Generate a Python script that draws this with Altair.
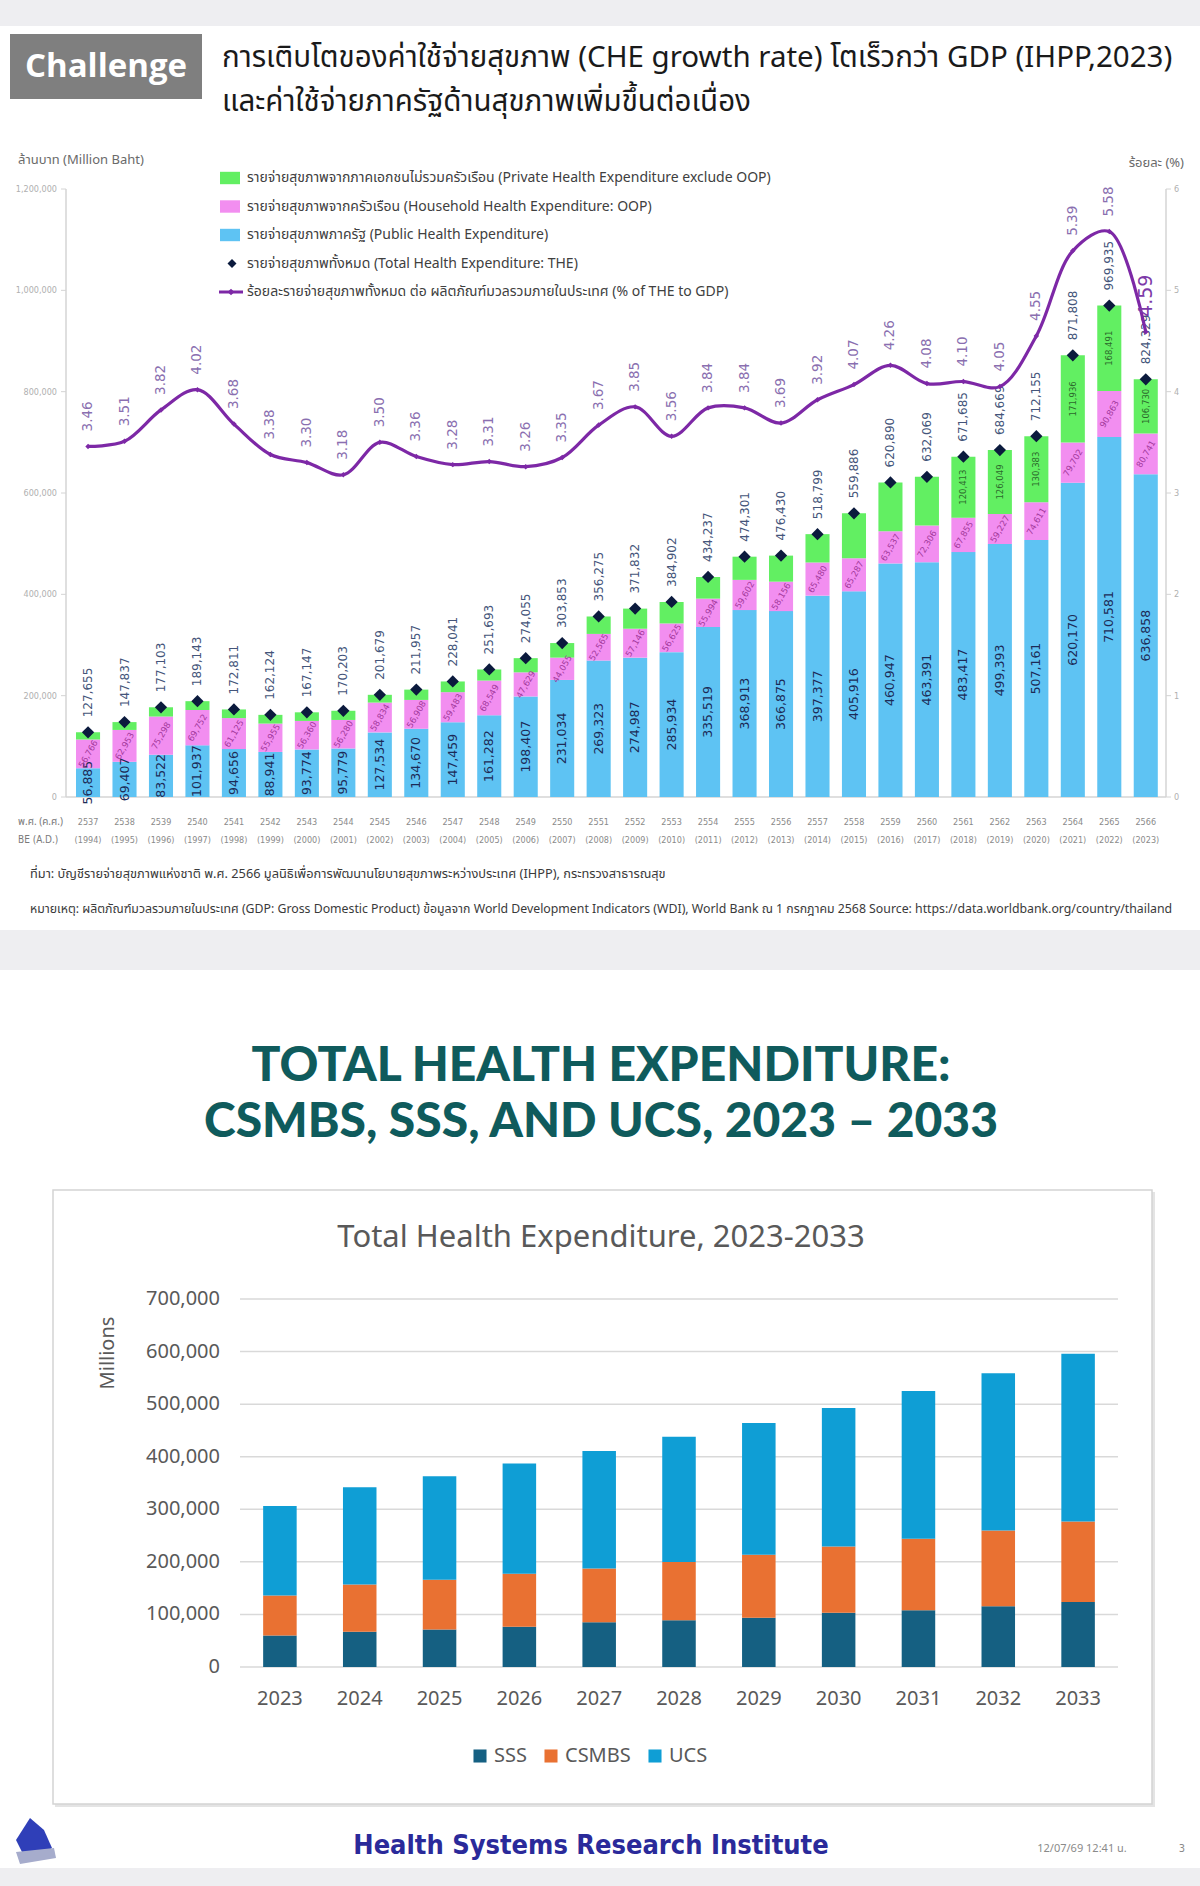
import altair as alt
import pandas as pd

W, H = 1200, 1886

# ---------------- Thailand national health accounts, BE 2537-2566 ----------------
be_years = ["2537", "2538", "2539", "2540", "2541", "2542", "2543", "2544", "2545", "2546",
            "2547", "2548", "2549", "2550", "2551", "2552", "2553", "2554", "2555", "2556",
            "2557", "2558", "2559", "2560", "2561", "2562", "2563", "2564", "2565", "2566"]
ad_years = ["(1994)", "(1995)", "(1996)", "(1997)", "(1998)", "(1999)", "(2000)", "(2001)", "(2002)", "(2003)",
            "(2004)", "(2005)", "(2006)", "(2007)", "(2008)", "(2009)", "(2010)", "(2011)", "(2012)", "(2013)",
            "(2014)", "(2015)", "(2016)", "(2017)", "(2018)", "(2019)", "(2020)", "(2021)", "(2022)", "(2023)"]
public = [56885, 69407, 83522, 101937, 94656, 88941, 93774, 95779, 127534, 134670,
          147459, 161282, 198407, 231034, 269323, 274987, 285934, 335519, 368913, 366875,
          397377, 405916, 460947, 463391, 483417, 499393, 507161, 620170, 710581, 636858]
household = [56766, 62953, 75298, 69752, 61125, 55955, 56360, 56280, 58834, 56908,
             59483, 68549, 47629, 44055, 52565, 57146, 56625, 55994, 59602, 58156,
             65480, 65287, 63537, 72306, 67855, 59227, 74611, 79702, 90863, 80741]
private = [14004, 15477, 18283, 17454, 17030, 17228, 17013, 18144, 15311, 20379,
           21099, 21862, 28019, 28764, 34387, 39699, 42343, 42724, 45786, 51399,
           55942, 88683, 96406, 96372, 120413, 126049, 130383, 171936, 168491, 106730]
total = [127655, 147837, 177103, 189143, 172811, 162124, 167147, 170203, 201679, 211957,
         228041, 251693, 274055, 303853, 356275, 371832, 384902, 434237, 474301, 476430,
         518799, 559886, 620890, 632069, 671685, 684669, 712155, 871808, 969935, 824329]
pct_gdp = [3.46, 3.51, 3.82, 4.02, 3.68, 3.38, 3.30, 3.18, 3.50, 3.36,
           3.28, 3.31, 3.26, 3.35, 3.67, 3.85, 3.56, 3.84, 3.84, 3.69,
           3.92, 4.07, 4.26, 4.08, 4.10, 4.05, 4.55, 5.39, 5.58, 4.59]
left_ticks = [0, 200000, 400000, 600000, 800000, 1000000, 1200000]
right_ticks = [0, 1, 2, 3, 4, 5, 6]

seg_names = ["Public", "Household", "Private"]          # bottom -> top
seg_colors = ["#5ec3f3", "#f28ef0", "#62ef62"]

legend_labels = [
    "รายจ่ายสุขภาพจากภาคเอกชนไม่รวมครัวเรือน (Private Health Expenditure exclude OOP)",
    "รายจ่ายสุขภาพจากครัวเรือน  (Household Health Expenditure: OOP)",
    "รายจ่ายสุขภาพภาครัฐ (Public Health Expenditure)",
    "รายจ่ายสุขภาพทั้งหมด (Total  Health Expenditure: THE)",
    "ร้อยละรายจ่ายสุขภาพทั้งหมด ต่อ ผลิตภัณฑ์มวลรวมภายในประเทศ (% of THE to GDP)",
]

# ---------------- projection 2023-2033 by scheme ----------------
years2 = ["2023", "2024", "2025", "2026", "2027", "2028", "2029", "2030", "2031", "2032", "2033"]
sss = [60000, 67000, 71400, 76400, 85300, 89000, 93500, 103000, 108000, 115600, 123800]
csmbs = [75800, 89700, 94600, 101100, 102300, 110600, 120000, 126300, 135800, 144000, 152900]
ucs = [170600, 185100, 197000, 209500, 223400, 238200, 250800, 263400, 281200, 299400, 319000]
plan_names = ["SSS", "CSMBS", "UCS"]
plan_colors = ["#156082", "#e97132", "#0f9ed5"]
bot_ticks = [0, 100000, 200000, 300000, 400000, 500000, 600000, 700000]

THAI = "Noto Sans Thai, Loma, Garuda, Tlwg Typist, Noto Sans, sans-serif"
NUM = "DejaVu Sans"
COND = "DejaVu Sans Condensed, Liberation Sans Narrow, Noto Sans, sans-serif"

# ---------------- tables ----------------
rows = []
for i, be in enumerate(be_years):
    for k, vals in enumerate([public, household, private]):
        rows.append({"be": be, "seg": seg_names[k], "k": k, "value": vals[i]})
seg_df = pd.DataFrame(rows)
the_df = pd.DataFrame({"be": be_years, "ad": ad_years, "total": total, "pct": pct_gdp})

rows2 = []
for i, yr in enumerate(years2):
    for k, vals in enumerate([sss, csmbs, ucs]):
        rows2.append({"year": yr, "plan": plan_names[k], "k": k, "value": vals[i]})
plan_df = pd.DataFrame(rows2)
year_df = pd.DataFrame({"year": years2})

one = pd.DataFrame({"k": [0]})


def box(x1, x2, y1, y2, **kw):
    return alt.Chart(one).mark_rect(**kw).encode(
        x=alt.value(x1), x2=alt.value(x2), y=alt.value(y1), y2=alt.value(y2))


def label(txt, x, y, **kw):
    return alt.Chart(one).mark_text(text=txt, **kw).encode(x=alt.value(x), y=alt.value(y))


def hline(x1, x2, y, **kw):
    return alt.Chart(one).mark_rule(**kw).encode(x=alt.value(x1), x2=alt.value(x2), y=alt.value(y))


def vline(x, y1, y2, **kw):
    return alt.Chart(one).mark_rule(**kw).encode(x=alt.value(x), y=alt.value(y1), y2=alt.value(y2))


# ---------------- scales (pixel ranges on the page) ----------------
x_top = alt.Scale(domain=be_years, range=[69.8, 1164], paddingInner=0.34, paddingOuter=0.17)
y_top = alt.Scale(domain=[0, 1200000], range=[797, 189], nice=False)
y_pct = alt.Scale(domain=[0, 6], range=[797, 189], nice=False)
x_bot = alt.Scale(domain=years2, range=[240, 1118], paddingInner=0.58, paddingOuter=0.29)
y_bot = alt.Scale(domain=[0, 700000], range=[1667, 1299], nice=False)

XT = alt.X("be:N", scale=x_top, sort=be_years, title=None, axis=None)


def YT(field):
    return alt.Y(field, scale=y_top, title=None, axis=None)


def YP(field):
    return alt.Y(field, scale=y_pct, title=None, axis=None)


AXIS_GREY = "#d4d4d4"
TICK_LBL = "#b0b0b0"

# ---------------- top: stacked bars ----------------
stacked = alt.Chart(seg_df).transform_stack(
    stack="value", groupby=["be"], sort=[alt.SortField("k", order="ascending")], as_=["v0", "v1"]
).transform_calculate(mid="(datum.v0 + datum.v1) / 2")

bars = stacked.mark_bar().encode(
    x=XT, y=YT("v0:Q"), y2="v1:Q",
    color=alt.Color("seg:N", scale=alt.Scale(domain=seg_names, range=seg_colors), legend=None),
)

pub_lbl = stacked.transform_filter("datum.seg == 'Public'").mark_text(
    angle=270, align="center", baseline="middle", fontSize=12.5, font=NUM, color="#1c2b57"
).encode(x=XT, y=YT("mid:Q"), text=alt.Text("value:Q", format=","))

hh_lbl = stacked.transform_filter("datum.seg == 'Household'").mark_text(
    angle=300, align="center", baseline="middle", fontSize=8.5, font=NUM, color="#a3399c"
).encode(x=XT, y=YT("mid:Q"), text=alt.Text("value:Q", format=","))

pv_lbl = stacked.transform_filter("datum.seg == 'Private' && toNumber(datum.be) >= 2561").mark_text(
    angle=270, align="center", baseline="middle", fontSize=8.5, font=NUM, color="#2c6a2c"
).encode(x=XT, y=YT("mid:Q"), text=alt.Text("value:Q", format=","))

the_pts = alt.Chart(the_df).mark_point(shape="diamond", filled=True, size=150, opacity=1,
                                       color="#0b1a3d").encode(x=XT, y=YT("total:Q"))

the_lbl = alt.Chart(the_df).mark_text(
    angle=270, align="left", baseline="middle", dx=15, fontSize=12, font=NUM, color="#44557a"
).encode(x=XT, y=YT("total:Q"), text=alt.Text("total:Q", format=","))

be_lbl = alt.Chart(the_df).mark_text(
    baseline="middle", fontSize=9, font=COND, color="#8a8a8a"
).encode(x=XT, text="be:N", y=alt.value(822))

ad_lbl = alt.Chart(the_df).mark_text(
    baseline="middle", fontSize=9, font=COND, color="#8a8a8a"
).encode(x=XT, y=alt.value(840), text="ad:N")

# left value axis (million baht)
lt_df = pd.DataFrame({"tick": left_ticks})
lt_lbl = alt.Chart(lt_df).mark_text(align="right", baseline="middle", fontSize=9, font=COND,
                                    color=TICK_LBL).encode(
    y=YT("tick:Q"), x=alt.value(57), text=alt.Text("tick:Q", format=","))
lt_tck = alt.Chart(lt_df).mark_rule(color=AXIS_GREY, strokeWidth=1).encode(
    y=YT("tick:Q"), x=alt.value(61), x2=alt.value(66))

bar_layer = alt.layer(bars, pub_lbl, hh_lbl, pv_lbl, the_pts, the_lbl, be_lbl, ad_lbl, lt_lbl, lt_tck)

# ---------------- top: % of GDP line ----------------
pct_line = alt.Chart(the_df).mark_line(interpolate="catmull-rom", color="#7d28a6", strokeWidth=3.2).encode(
    x=XT, y=YP("pct:Q"))
pct_pts = alt.Chart(the_df).mark_point(shape="diamond", filled=True, size=30, opacity=1,
                                       color="#7d28a6").encode(x=XT, y=YP("pct:Q"))
pct_lbl = alt.Chart(the_df).mark_text(
    angle=270, align="left", baseline="middle", dx=15, font=NUM
).encode(
    x=XT, y=YP("pct:Q"),
    text=alt.Text("pct:Q", format=".2f"),
    size=alt.condition("datum.be == '2566'", alt.value(19), alt.value(13.5)),
    color=alt.condition("datum.be == '2566'", alt.value("#7d3aa8"), alt.value("#8a6fb0")),
)
rt_df = pd.DataFrame({"tick": right_ticks})
rt_lbl = alt.Chart(rt_df).mark_text(align="left", baseline="middle", fontSize=9, font=COND,
                                    color=TICK_LBL).encode(
    y=YP("tick:Q"), x=alt.value(1174), text="tick:Q")
rt_tck = alt.Chart(rt_df).mark_rule(color=AXIS_GREY, strokeWidth=1).encode(
    y=YP("tick:Q"), x=alt.value(1166), x2=alt.value(1171))
pct_layer = alt.layer(pct_line, pct_pts, pct_lbl, rt_lbl, rt_tck)

top_chart = alt.layer(bar_layer, pct_layer).resolve_scale(y="independent")

# ---------------- top: legend ----------------
leg_df = pd.DataFrame({"item": legend_labels})
LEG_Y = alt.Y("item:N", scale=alt.Scale(type="point", domain=legend_labels, range=[178, 292], padding=0),
              axis=None, title=None)
rect_path = "M-1,-0.62L1,-0.62L1,0.62L-1,0.62Z"
leg_sw = alt.Chart(leg_df).transform_filter(
    alt.FieldOneOfPredicate(field="item", oneOf=legend_labels[:3])
).mark_point(shape=rect_path, filled=True, size=400, opacity=1).encode(
    x=alt.value(230), y=LEG_Y,
    color=alt.Color("item:N", scale=alt.Scale(domain=legend_labels[:3],
                                              range=[seg_colors[2], seg_colors[1], seg_colors[0]]),
                    legend=None))
leg_dia = alt.Chart(leg_df).transform_filter(alt.FieldEqualPredicate(field="item", equal=legend_labels[3])).mark_point(
    shape="diamond", filled=True, size=80, opacity=1, color="#0b1a3d").encode(x=alt.value(232), y=LEG_Y)
leg_line = alt.Chart(leg_df).transform_filter(alt.FieldEqualPredicate(field="item", equal=legend_labels[4])).mark_rule(
    color="#7d28a6", strokeWidth=3).encode(x=alt.value(219), x2=alt.value(243), y=LEG_Y)
leg_ldia = alt.Chart(leg_df).transform_filter(alt.FieldEqualPredicate(field="item", equal=legend_labels[4])).mark_point(
    shape="diamond", filled=True, size=45, opacity=1, color="#7d28a6").encode(x=alt.value(231), y=LEG_Y)
leg_txt = alt.Chart(leg_df).mark_text(align="left", baseline="middle", fontSize=14, font=THAI,
                                      color="#404040").encode(x=alt.value(247), y=LEG_Y, text="item:N")
top_legend = alt.layer(leg_sw, leg_dia, leg_line, leg_ldia, leg_txt)

# ---------------- bottom: projection by scheme ----------------
XB = alt.X("year:N", scale=x_bot, sort=years2, title=None, axis=None)
bt_df = pd.DataFrame({"tick": bot_ticks})
grid = alt.Chart(bt_df).mark_rule(color="#d9d9d9", strokeWidth=1.5).encode(
    y=alt.Y("tick:Q", scale=y_bot, title=None, axis=None), x=alt.value(240), x2=alt.value(1118))
grid_lbl = alt.Chart(bt_df).mark_text(align="right", baseline="middle", fontSize=20, font="Noto Sans",
                                      color="#595959").encode(
    y=alt.Y("tick:Q", scale=y_bot, title=None, axis=None), x=alt.value(220),
    text=alt.Text("tick:Q", format=","))
plan_bars = alt.Chart(plan_df).mark_bar().encode(
    x=XB,
    y=alt.Y("value:Q", scale=y_bot, stack="zero", title=None, axis=None),
    color=alt.Color("plan:N", scale=alt.Scale(domain=plan_names, range=plan_colors),
                    legend=alt.Legend(orient="none", legendX=470, legendY=1746, direction="horizontal",
                                      title=None, symbolType="square", symbolSize=170, symbolStrokeWidth=0,
                                      labelFontSize=20, labelColor="#595959", labelFont="Noto Sans",
                                      columnPadding=14, labelOffset=4)),
    order=alt.Order("k:Q", sort="ascending"),
)
year_lbl = alt.Chart(year_df).mark_text(baseline="middle", fontSize=20, font="Noto Sans",
                                        color="#595959").encode(x=XB, y=alt.value(1699), text="year:N")
bottom_chart = alt.layer(grid, grid_lbl, plan_bars, year_lbl)

# ---------------- page furniture ----------------
decor = [
    box(0, W, 26, 930, color="#ffffff"),
    box(0, W, 970, 1868, color="#ffffff"),
    box(10, 202, 34, 99, color="#7f7f7f"),
    label("Challenge", 106, 67, align="center", baseline="middle", fontSize=33, fontWeight="bold",
          font="Open Sans", color="#ffffff"),
    label("การเติบโตของค่าใช้จ่ายสุขภาพ (CHE growth rate) โตเร็วกว่า GDP (IHPP,2023)", 222, 58,
          align="left", baseline="middle", fontSize=29.5, font=THAI, color="#1a1a1a"),
    label("และค่าใช้จ่ายภาครัฐด้านสุขภาพเพิ่มขึ้นต่อเนื่อง", 222, 102,
          align="left", baseline="middle", fontSize=29.5, font=THAI, color="#1a1a1a"),
    label("ล้านบาท (Million Baht)", 18, 160, align="left", baseline="middle", fontSize=13, font=THAI,
          color="#6a6a6a"),
    label("ร้อยละ (%)", 1184, 163, align="right", baseline="middle", fontSize=13, font=THAI, color="#6a6a6a"),
    vline(66, 189, 797, color=AXIS_GREY, strokeWidth=1.5),
    vline(1166, 189, 797, color=AXIS_GREY, strokeWidth=1.5),
    hline(66, 1166, 797, color=AXIS_GREY, strokeWidth=1.5),
    label("พ.ศ. (ค.ศ.)", 18, 822, align="left", baseline="middle", fontSize=10, font=THAI, color="#7a7a7a"),
    label("BE (A.D.)", 18, 840, align="left", baseline="middle", fontSize=10, font=COND, color="#7a7a7a"),
    label("ที่มา: บัญชีรายจ่ายสุขภาพแห่งชาติ พ.ศ. 2566 มูลนิธิเพื่อการพัฒนานโยบายสุขภาพระหว่างประเทศ (IHPP), กระทรวงสาธารณสุข",
          30, 874, align="left", baseline="middle", fontSize=12.8, font=THAI, color="#3a3a3a"),
    label("หมายเหตุ: ผลิตภัณฑ์มวลรวมภายในประเทศ (GDP: Gross Domestic Product)  ข้อมูลจาก World Development Indicators (WDI), World Bank ณ 1 กรกฎาคม 2568 Source: https://data.worldbank.org/country/thailand",
          30, 909, align="left", baseline="middle", fontSize=12.3, font=THAI, color="#3a3a3a"),
    label("TOTAL HEALTH EXPENDITURE:", 601, 1067, align="center", baseline="middle", fontSize=48,
          fontWeight=900, font="Lato", color="#0f5b5c"),
    label("CSMBS, SSS, AND UCS, 2023 – 2033", 601, 1123, align="center", baseline="middle", fontSize=48,
          fontWeight=900, font="Lato", color="#0f5b5c"),
    box(55, 1155, 1192, 1807, color="#e4e4e4"),
    box(53, 1152, 1190, 1804, fill="#ffffff", stroke="#d4d4d4", strokeWidth=1.5),
    label("Total Health Expenditure, 2023-2033", 601, 1238, align="center", baseline="middle",
          fontSize=31, font="Noto Sans", color="#595959"),
    label("Millions", 108, 1353, angle=270, align="center", baseline="middle", fontSize=20,
          font="Noto Sans", color="#595959"),
    alt.Chart(one).mark_point(shape="M-0.2,-1L0.5,-0.4L0.9,0.5L0.3,0.9L-0.6,0.7L-0.9,0.1Z", filled=True,
                              size=1600, opacity=1, color="#2f3fb8").encode(x=alt.value(34), y=alt.value(1838)),
    alt.Chart(one).mark_point(shape="M-1,0.3L0.9,0.1L1,0.6L-0.8,0.9Z", filled=True,
                              size=1600, opacity=1, color="#a6accc").encode(x=alt.value(36), y=alt.value(1846)),
    label("Health  Systems  Research  Institute", 591, 1846, align="center", baseline="middle",
          fontSize=27, fontWeight="bold", font="Liberation Sans Narrow, DejaVu Sans Condensed, sans-serif",
          color="#2a2a9a"),
    label("12/07/69 12:41 น.", 1082, 1849, align="center", baseline="middle", fontSize=11, font=THAI,
          color="#8a8a8a"),
    label("3", 1182, 1849, align="center", baseline="middle", fontSize=11, font=COND, color="#8a8a8a"),
]

chart = alt.layer(
    *decor, top_legend, top_chart, bottom_chart
).resolve_scale(
    x="independent", y="independent", color="independent"
).properties(
    width=W, height=H, autosize="none", padding=0
).configure(
    background="#eeeef1"
).configure_view(stroke=None)

chart.save("out.html", embed_options={"renderer": "svg", "actions": False})
